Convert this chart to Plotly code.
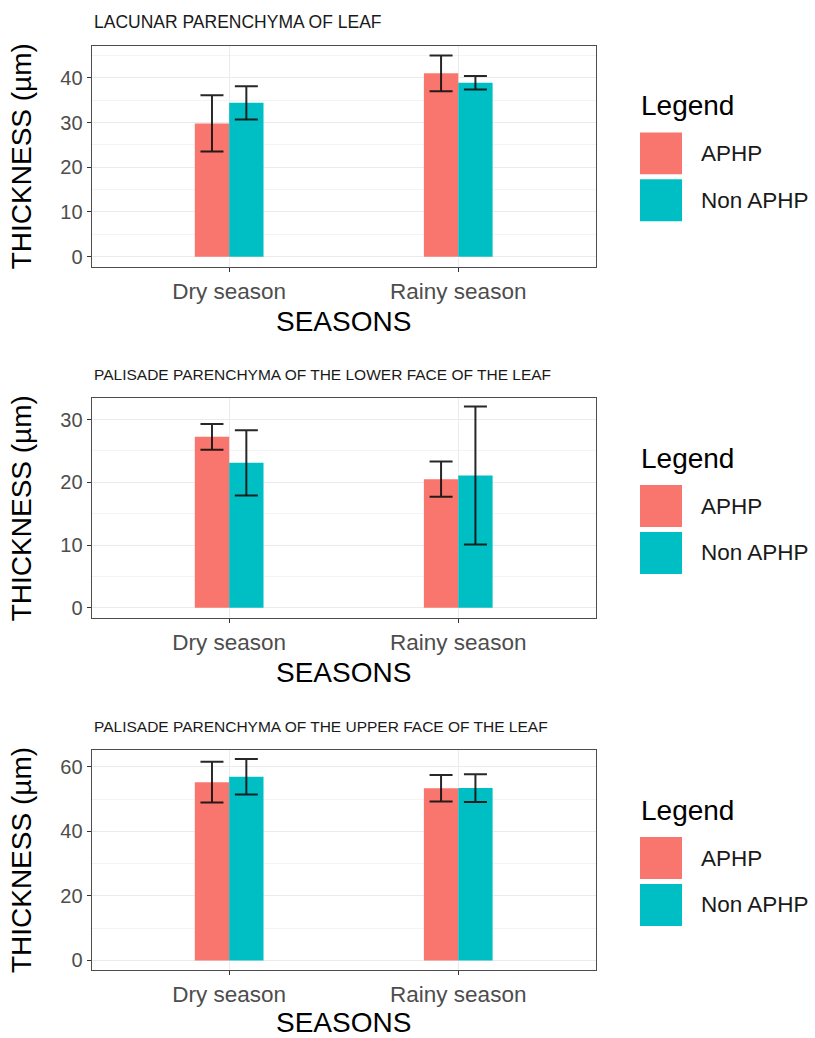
import plotly.graph_objects as go

W, H = 815, 1038

seasons = ["Dry season", "Rainy season"]
groups = ["APHP", "Non APHP"]
colors = ["#F8766D", "#00BFC4"]

titles = [
    "LACUNAR PARENCHYMA OF LEAF",
    "PALISADE PARENCHYMA OF THE LOWER FACE OF THE LEAF",
    "PALISADE PARENCHYMA OF THE UPPER FACE OF THE LEAF",
]
title_sizes = [17.5, 15.5, 15.5]

# mean thickness (µm) per season, one list per group
lacunar_aphp = [29.8, 41.0]
lacunar_non = [34.4, 38.9]
lacunar_aphp_sd = [6.3, 4.0]
lacunar_non_sd = [3.7, 1.5]

lower_aphp = [27.25, 20.5]
lower_non = [23.1, 21.1]
lower_aphp_sd = [2.05, 2.8]
lower_non_sd = [5.2, 11.0]

upper_aphp = [55.2, 53.3]
upper_non = [56.9, 53.4]
upper_aphp_sd = [6.3, 4.1]
upper_non_sd = [5.5, 4.3]

yticks = [[0, 10, 20, 30, 40], [0, 10, 20, 30], [0, 20, 40, 60]]
yminor = [5, 5, 10]
yranges = [[-2.25, 47.2], [-1.65, 33.4], [-2.9, 65.1]]

panels = [
    (lacunar_aphp, lacunar_non, lacunar_aphp_sd, lacunar_non_sd),
    (lower_aphp, lower_non, lower_aphp_sd, lower_non_sd),
    (upper_aphp, upper_non, upper_aphp_sd, upper_non_sd),
]

# layout geometry (pixels)
plot_left, plot_right = 91.7, 595.7
tops = [45.7, 399.0, 751.7]
bottoms = [267.3, 619.3, 971.7]

FONT = "Liberation Sans, Arial, sans-serif"

def px(x):
    return x / W

def py(y):
    return 1 - y / H

fig = go.Figure()
shapes = []
annotations = []

for i, (a, n, asd, nsd) in enumerate(panels):
    suffix = "" if i == 0 else str(i + 1)
    xa = "x" + suffix
    ya = "y" + suffix
    for g, vals, sd, col in [(groups[0], a, asd, colors[0]), (groups[1], n, nsd, colors[1])]:
        fig.add_trace(go.Bar(
            x=seasons, y=vals, name=g, xaxis=xa, yaxis=ya,
            marker=dict(color=col, line=dict(width=0)),
            offsetgroup=g, showlegend=False,
            error_y=dict(type="data", array=sd, visible=True,
                         color="rgba(15,15,15,0.9)", thickness=2, width=11.5),
        ))
    axis_line = "#4D4D4D"
    fig.layout["xaxis" + suffix] = dict(
        domain=[px(plot_left), px(plot_right)], anchor=ya,
        type="category", range=[-0.6, 1.6],
        showgrid=True, gridcolor="#EBEBEB", gridwidth=1.3,
        ticks="outside", ticklen=4, tickwidth=1.2, tickcolor="#333333",
        showline=True, mirror=True, linecolor=axis_line, linewidth=1.2,
        tickfont=dict(family=FONT, size=22.5, color="#4D4D4D"),
        title=dict(text="SEASONS", font=dict(family=FONT, size=28, color="#000000"), standoff=8),
        zeroline=False, fixedrange=True,
    )
    fig.layout["yaxis" + suffix] = dict(
        domain=[py(bottoms[i]), py(tops[i])], anchor=xa,
        range=yranges[i], tickvals=yticks[i],
        showgrid=True, gridcolor="#EBEBEB", gridwidth=1.3,
        minor=dict(dtick=yminor[i], tick0=0, showgrid=True, gridcolor="#F4F4F4", gridwidth=0.8),
        ticks="outside", ticklen=4, tickwidth=1.2, tickcolor="#333333",
        showline=True, mirror=True, linecolor=axis_line, linewidth=1.2,
        tickfont=dict(family=FONT, size=20, color="#4D4D4D"),
        title=dict(text="THICKNESS (µm)", font=dict(family=FONT, size=28, color="#000000"), standoff=20),
        zeroline=False, fixedrange=True,
    )
    T = tops[i]
    # panel title
    annotations.append(dict(
        text=titles[i], x=px(plot_left), y=py(T - 24), xref="paper", yref="paper",
        xanchor="left", yanchor="middle", showarrow=False,
        font=dict(family=FONT, size=title_sizes[i], color="#1A1A1A"),
    ))
    # legend
    annotations.append(dict(
        text="Legend", x=px(639), y=py(T + 60), xref="paper", yref="paper",
        xanchor="left", yanchor="middle", showarrow=False,
        font=dict(family=FONT, size=28, color="#000000"),
    ))
    for k, (g, col) in enumerate(zip(groups, colors)):
        y0 = T + 87 + k * 47
        shapes.append(dict(
            type="rect", xref="paper", yref="paper",
            x0=px(640), x1=px(682), y0=py(y0 + 42), y1=py(y0),
            fillcolor=col, line=dict(width=0),
        ))
        annotations.append(dict(
            text=g, x=px(699), y=py(y0 + 21), xref="paper", yref="paper",
            xanchor="left", yanchor="middle", showarrow=False,
            font=dict(family=FONT, size=22.5, color="#1A1A1A"),
        ))

fig.update_layout(
    width=W, height=H,
    margin=dict(l=0, r=0, t=0, b=0),
    paper_bgcolor="white", plot_bgcolor="white",
    barmode="group", bargap=0.7, bargroupgap=0,
    shapes=shapes, annotations=annotations,
    showlegend=False,
)

fig.write_html("out.html")
